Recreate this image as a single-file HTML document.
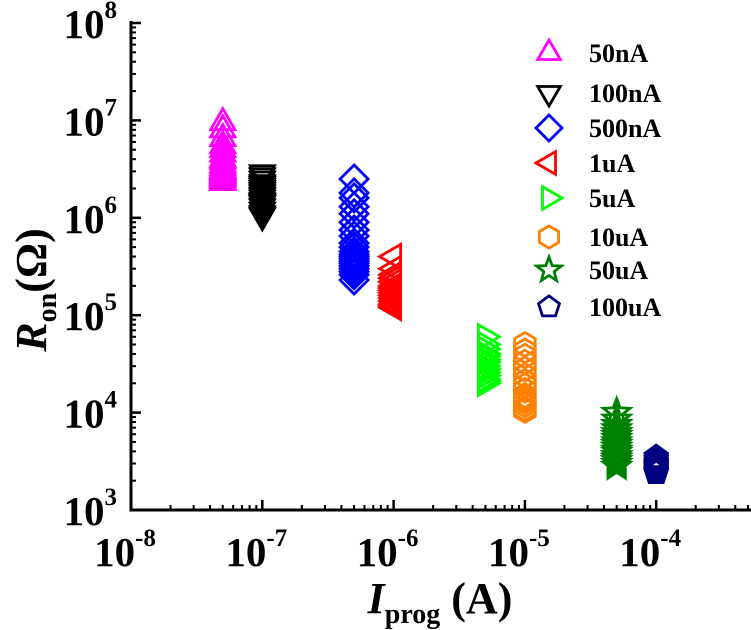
<!DOCTYPE html>
<html><head><meta charset="utf-8"><style>
html,body{margin:0;padding:0;background:#fff;}
svg{display:block;font-family:"Liberation Serif",serif;font-weight:bold;}
</style></head><body>
<svg id="chart" width="751" height="630" viewBox="0 0 751 630"></svg>
<script>
const seriesNames = ["50nA","100nA","500nA","1uA","5uA","10uA","50uA","100uA"];
const seriesCurrents = [5e-8,1e-7,5e-7,1e-6,5e-6,1e-5,5e-5,1e-4];
const seriesColors = ["#ff00ff","#000000","#0000ff","#ff0000","#00ff00","#ff8000","#008000","#000080"];
const seriesShapes = ["tri-up","tri-down","diamond","tri-left","tri-right","hexagon","star","pentagon"];
const r50nA = [9.5e6,8e6,6.5e6,5.5e6,5e6,4.5e6,4e6,3.8e6,3.5e6,3.3e6,3.1e6,3e6,2.9e6,2.8e6,2.7e6,2.6e6,2.5e6,2.4e6,2.3e6];
const r100nA = [2.9e6,2.7e6,2.5e6,2.3e6,2.2e6,2.1e6,2e6,1.9e6,1.8e6,1.7e6,1.6e6,1.5e6,1.45e6,1.4e6,1.3e6,1.2e6,1.1e6,1.05e6];
const r500nA = [2.5e6,1.8e6,1.6e6,1.3e6,1.1e6,9e5,7.5e5,6.5e5,5.5e5,5e5,4.5e5,4.2e5,4e5,3.8e5,3.6e5,3.4e5,3.2e5,3e5,2.8e5,2.6e5,2.3e5];
const r1uA = [4e5,3e5,2.6e5,2.4e5,2.2e5,2e5,1.9e5,1.8e5,1.7e5,1.6e5,1.5e5,1.4e5,1.3e5,1.25e5,1.2e5];
const r5uA = [6e4,5e4,4.5e4,4e4,3.8e4,3.5e4,3.3e4,3e4,2.8e4,2.6e4,2.4e4,2.2e4,2.1e4,2e4];
const r10uA = [5e4,4.3e4,3.8e4,3.3e4,2.8e4,2.4e4,2.1e4,1.9e4,1.7e4,1.5e4,1.4e4,1.3e4,1.2e4,1.1e4,1.05e4];
const r50uA = [1e4,8.5e3,7.5e3,6.8e3,6.2e3,5.8e3,5.4e3,5e3,4.7e3,4.4e3,4.1e3,3.9e3,3.6e3,3.4e3,3.2e3,3e3,2.8e3];
const r100uA = [3.5e3,3.3e3,3.1e3,3e3,2.9e3,2.8e3,2.7e3,2.6e3,2.5e3,2.45e3,2.4e3];
const seriesValues = [r50nA,r100nA,r500nA,r1uA,r5uA,r10uA,r50uA,r100uA];
const xTickExps = [-8,-7,-6,-5,-4];
const yTickExps = [3,4,5,6,7,8];

const NS="http://www.w3.org/2000/svg";
const svg=document.getElementById('chart');
const X0=131, XD=131.3, Y0=510, YD=97.4;
function xs(v){return X0+(Math.log10(v)+8)*XD;}
function ys(v){return Y0-(Math.log10(v)-3)*YD;}
function mk(tag,attrs,parent){const e=document.createElementNS(NS,tag);for(const k in attrs)e.setAttribute(k,attrs[k]);(parent||svg).appendChild(e);return e;}

function shapePoints(shape,cx,cy,s){
  const pts=[];
  function poly(n,rot,r){for(let i=0;i<n;i++){const a=rot+i*2*Math.PI/n;pts.push([cx+r*Math.cos(a),cy+r*Math.sin(a)]);}}
  if(shape==="tri-up")poly(3,-Math.PI/2,s);
  else if(shape==="tri-down")poly(3,Math.PI/2,s);
  else if(shape==="tri-left")poly(3,Math.PI,s);
  else if(shape==="tri-right")poly(3,0,s);
  else if(shape==="diamond")poly(4,-Math.PI/2,s);
  else if(shape==="hexagon")poly(6,-Math.PI/2,s*0.85);
  else if(shape==="pentagon")poly(5,-Math.PI/2,s*0.85);
  else if(shape==="star"){for(let i=0;i<10;i++){const a=-Math.PI/2+i*Math.PI/5;const r=i%2?s*0.42:s;pts.push([cx+r*Math.cos(a),cy+r*Math.sin(a)]);}}
  return pts.map(p=>p[0].toFixed(1)+","+p[1].toFixed(1)).join(" ");
}

const axes=mk('g',{});


const yAxis=mk('line',{x1:X0,y1:21,x2:X0,y2:Y0+1.5,stroke:'#000','stroke-width':3},axes);


const xAxis=mk('line',{x1:X0-1.5,y1:Y0,x2:751,y2:Y0,stroke:'#000','stroke-width':3},axes);



for(let e=3;e<=8;e++){
  mk('line',{x1:X0,y1:ys(Math.pow(10,e)),x2:X0+10,y2:ys(Math.pow(10,e)),stroke:'#000','stroke-width':2.5},axes);
  if(e<8)for(let m=2;m<=9;m++){const y=ys(m*Math.pow(10,e));mk('line',{x1:X0,y1:y,x2:X0+5,y2:y,stroke:'#000','stroke-width':2},axes);}
}
yTickExps.forEach(e=>{
  const t=mk('text',{x:117,y:ys(Math.pow(10,e))+15,'text-anchor':'end','font-size':41});
  
  
  t.innerHTML='10<tspan font-size="25" dy="-20">'+e+'</tspan>';
});
for(let e=-8;e<=-4;e++){
  const x=xs(Math.pow(10,e));
  mk('line',{x1:x,y1:Y0,x2:x,y2:Y0-10,stroke:'#000','stroke-width':2.5},axes);
  for(let m=2;m<=9;m++){const xm=xs(m*Math.pow(10,e));if(xm<750)mk('line',{x1:xm,y1:Y0,x2:xm,y2:Y0-5,stroke:'#000','stroke-width':2},axes);}
}
xTickExps.forEach(e=>{
  const x=xs(Math.pow(10,e));
  const t=mk('text',{x:x-6,y:566,'text-anchor':'middle','font-size':41});
  
  
  t.innerHTML='10<tspan font-size="25" dy="-20">'+e+'</tspan>';
});

const xt=mk('text',{x:440,y:613,'text-anchor':'middle','font-size':44});


xt.innerHTML='<tspan font-style="italic">I</tspan><tspan font-size="28" dy="10">prog</tspan><tspan dy="-10"> (A)</tspan>';
const yt=mk('text',{x:0,y:0,'text-anchor':'middle','font-size':44,transform:'translate(46,290) rotate(-90)'});


yt.innerHTML='<tspan font-style="italic">R</tspan><tspan font-size="28" dy="10">on</tspan><tspan dy="-10">(Ω)</tspan>';

seriesValues.forEach((vals,i)=>{
  const g=mk('g',{fill:'none',stroke:seriesColors[i],'stroke-width':2.8});
  
  
  vals.forEach(v=>{
    const p=mk('polygon',{points:shapePoints(seriesShapes[i],xs(seriesCurrents[i]),ys(v),14)},g);
    
    
  });
});

const legY=[53,93,128,163,198,237,270,307];
const leg=mk('g',{});


seriesNames.forEach((n,i)=>{
  const g=mk('g',{},leg);
  
  
  mk('polygon',{points:shapePoints(seriesShapes[i],549,legY[i],13),fill:'none',stroke:seriesColors[i],'stroke-width':2.8},g);
  const t=mk('text',{x:589,y:legY[i]+9,'font-size':26},g);
  t.textContent=n;
});
</script>
</body></html>
